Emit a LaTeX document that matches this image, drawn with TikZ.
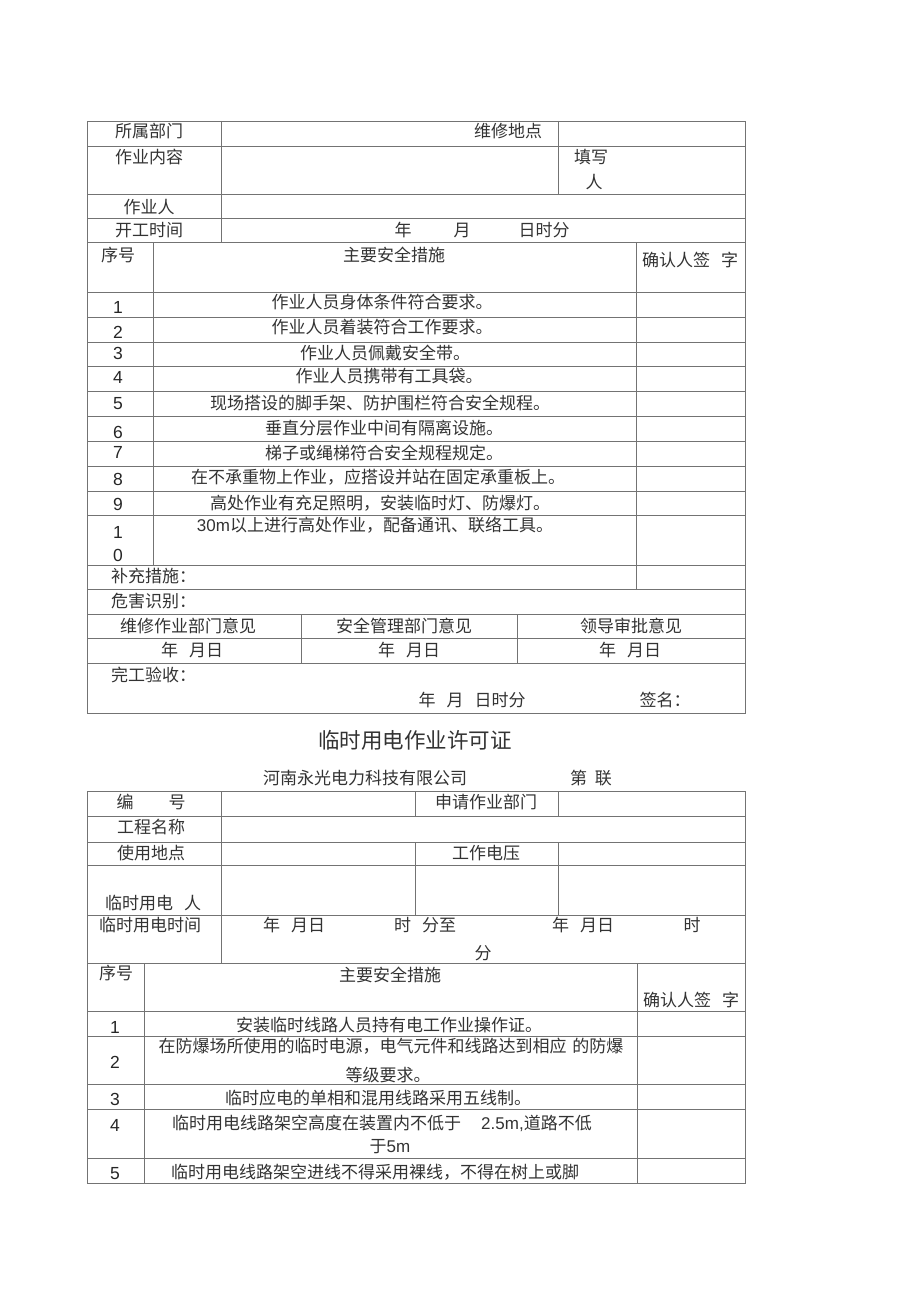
\documentclass[tikz,border=0pt]{standalone}
\usepackage{fontspec}
\setmainfont{Noto Sans CJK SC}
\newfontfamily\lat{Liberation Sans}
\newcommand{\gap}{\hspace{11pt}}
\begin{document}
\begin{tikzpicture}[x=1pt,y=-1pt,
  grid/.style={draw=black!55, line width=0.9pt},
  t/.style={inner sep=0pt, text=black!80, font=\fontsize{17}{20}\selectfont},
  n/.style={inner sep=0pt, text=black!85, font=\lat\fontsize{17.5}{20}\selectfont},
  ttl/.style={inner sep=0pt, text=black!80, font=\fontsize{21.5}{24}\selectfont}]
\useasboundingbox[fill=white] (0,0) rectangle (920,1303);
% ---------- table 1 grid ----------
\draw[grid] (87,121) rectangle (745,713);
\foreach \y in {146,194,218,242,292,317,342,366,391,416,441,466,491,515,565,589,614,638,663}
  \draw[grid] (87,\y) -- (745,\y);
\draw[grid] (221,121) -- (221,242);
\draw[grid] (558,121) -- (558,194);
\draw[grid] (153,242) -- (153,565);
\draw[grid] (636,242) -- (636,589);
\draw[grid] (301,614) -- (301,663);
\draw[grid] (517,614) -- (517,663);
% ---------- table 1 text ----------
\node[t] (a1) at (149,131) {所属部门};
\node[t] (a2) at (508,131) {维修地点};
\node[t] (a3) at (149,157) {作业内容};
\node[t] (a4) at (591,157) {填写};
\node[t] (a5) at (594,182) {人};
\node[t] (a6) at (149,207) {作业人};
\node[t] (a7) at (149,230) {开工时间};
\node[t] (a8) at (403,230) {年};
\node[t] (a9) at (462,230) {月};
\node[t] (a10) at (544,230) {日时分};
\node[t] (h1) at (118,255) {序号};
\node[t] (h2) at (394,255) {主要安全措施};
\node[t] (h3) at (690,260) {确认人签\gap 字};
\node[n] (n1) at (118,307) {1};
\node[t] (m1) at (382,302) {作业人员身体条件符合要求。};
\node[n] (n2) at (118,332) {2};
\node[t] (m2) at (382,327) {作业人员着装符合工作要求。};
\node[n] (n3) at (118,353) {3};
\node[t] (m3) at (385,353) {作业人员佩戴安全带。};
\node[n] (n4) at (118,377) {4};
\node[t] (m4) at (389,376) {作业人员携带有工具袋。};
\node[n] (n5) at (118,404) {5};
\node[t] (m5) at (380,403) {现场搭设的脚手架、防护围栏符合安全规程。};
\node[n] (n6) at (118,432) {6};
\node[t] (m6) at (384,428) {垂直分层作业中间有隔离设施。};
\node[n] (n7) at (118,452) {7};
\node[t] (m7) at (384,453) {梯子或绳梯符合安全规程规定。};
\node[n] (n8) at (118,479) {8};
\node[t] (m8) at (378,477) {在不承重物上作业，应搭设并站在固定承重板上。};
\node[n] (n9) at (118,504) {9};
\node[t] (m9) at (380,503) {高处作业有充足照明，安装临时灯、防爆灯。};
\node[n] (n10a) at (118,532) {1};
\node[n] (n10b) at (118,555) {0};
\node[t] (m10) at (375,525) {{\lat 30m}以上进行高处作业，配备通讯、联络工具。};
\node[t,anchor=west] (s1) at (111,576) {补充措施：};
\node[t,anchor=west] (s2) at (111,601) {危害识别：};
\node[t] (o1) at (188,626) {维修作业部门意见};
\node[t] (o2) at (404,626) {安全管理部门意见};
\node[t] (o3) at (631,626) {领导审批意见};
\node[t] (d1) at (192,650) {年\gap 月日};
\node[t] (d2) at (409,650) {年\gap 月日};
\node[t] (d3) at (630,650) {年\gap 月日};
\node[t,anchor=west] (w1) at (111,675) {完工验收：};
\node[t] (w2) at (472,700) {年\gap 月\gap 日时分};
\node[t] (w3) at (665,700) {签名：};
% ---------- title ----------
\node[ttl] (T) at (415,740) {临时用电作业许可证};
\node[t] (c1) at (365,778) {河南永光电力科技有限公司};
\node[t] (c2) at (591,778) {第\hspace{8pt}联};
% ---------- table 2 grid ----------
\draw[grid] (87,791) rectangle (745,1183);
\foreach \y in {816,842,865,915,963,1011,1036,1084,1109,1158}
  \draw[grid] (87,\y) -- (745,\y);
\draw[grid] (221,791) -- (221,963);
\draw[grid] (415,791) -- (415,816);
\draw[grid] (558,791) -- (558,816);
\draw[grid] (415,842) -- (415,915);
\draw[grid] (558,842) -- (558,915);
\draw[grid] (144,963) -- (144,1183);
\draw[grid] (637,963) -- (637,1183);
% ---------- table 2 text ----------
\node[t] (b1) at (125,802) {编};
\node[t] (b2) at (177,802) {号};
\node[t] (b3) at (486,802) {申请作业部门};
\node[t] (b4) at (151,827) {工程名称};
\node[t] (b5) at (151,853) {使用地点};
\node[t] (b6) at (486,853) {工作电压};
\node[t] (b7) at (153,903) {临时用电\gap 人};
\node[t] (b8) at (150,925) {临时用电时间};
\node[t] (b9) at (294,925) {年\gap 月日};
\node[t] (b10) at (425,925) {时\gap 分至};
\node[t] (b11) at (583,925) {年\gap 月日};
\node[t] (b12) at (692,925) {时};
\node[t] (b13) at (483,953) {分};
\node[t] (k1) at (116,973) {序号};
\node[t] (k2) at (390,975) {主要安全措施};
\node[t] (k3) at (691,1000) {确认人签\gap 字};
\node[n] (p1n) at (115,1027) {1};
\node[t] (p1) at (389,1025) {安装临时线路人员持有电工作业操作证。};
\node[n] (p2n) at (115,1062) {2};
\node[t] (p2a) at (391,1046) {在防爆场所使用的临时电源，电气元件和线路达到相应\hspace{6pt}的防爆};
\node[t] (p2b) at (388,1075) {等级要求。};
\node[n] (p3n) at (115,1099) {3};
\node[t] (p3) at (378,1098) {临时应电的单相和混用线路采用五线制。};
\node[n] (p4n) at (115,1125) {4};
\node[t] (p4a) at (382,1123) {临时用电线路架空高度在装置内不低于\hspace{20pt}{\lat 2.5m,}道路不低};
\node[t] (p4b) at (390,1147) {于{\lat 5m}};
\node[n] (p5n) at (115,1174) {5};
\node[t] (p5) at (375,1172) {临时用电线路架空进线不得采用裸线，不得在树上或脚};
\end{tikzpicture}
\end{document}
